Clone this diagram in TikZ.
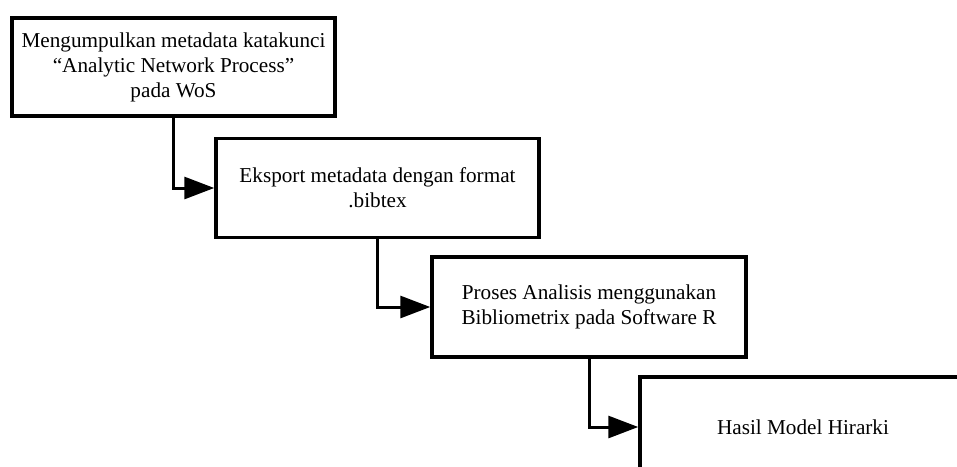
\documentclass[tikz,border=0pt]{standalone}
\usepackage{fontspec}
\setmainfont{Liberation Serif}
\usetikzlibrary{arrows.meta}
\tikzset{
  stepbox/.style={draw=black, line width=3.5pt, fill=white, inner sep=0pt, align=center,
    font=\fontsize{21.2}{25}\selectfont},
  conn/.style={draw=black, line width=3pt, -{Triangle[length=30pt,width=22pt]}}
}
\begin{document}
\begin{tikzpicture}[x=1pt,y=-1pt]
\useasboundingbox (0,0) rectangle (957,466);
\clip (0,0) rectangle (957,466);
\fill[white] (0,0) rectangle (957,466);
\node[stepbox, minimum width=323pt, minimum height=98pt] (b1) at (173.5,67)
  {Mengumpulkan metadata katakunci\\“Analytic Network Process”\\pada WoS};
\node[stepbox, minimum width=323pt, minimum height=99pt] (b2) at (377.5,188)
  {Eksport metadata dengan format\\.bibtex};
\node[stepbox, minimum width=314pt, minimum height=100pt] (b3) at (589,307)
  {Proses Analisis menggunakan\\Bibliometrix pada Software R};
\node[stepbox, minimum width=326pt, minimum height=100pt] (b4) at (803,427)
  {Hasil Model Hirarki};
\draw[conn] (b1.south) |- (b2.west);
\draw[conn] (b2.south) |- (b3.west);
\draw[conn] (b3.south) |- (b4.west);
\end{tikzpicture}
\end{document}
